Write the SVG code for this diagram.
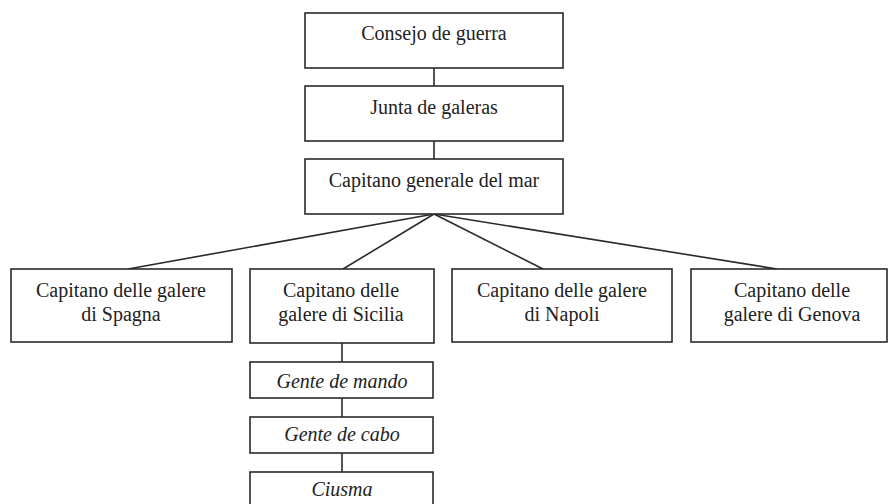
<svg xmlns="http://www.w3.org/2000/svg" width="888" height="504" viewBox="0 0 888 504">
<style>
.box{fill:#fff;stroke:#2a2a2a;stroke-width:1.6}
.lbl{font-family:"Liberation Serif","Times New Roman",serif;font-size:20px;fill:#222;text-anchor:middle}
.it{font-style:italic}
.con{stroke:#2a2a2a;stroke-width:1.6;fill:none}
</style>
<rect width="888" height="504" fill="#fff"/>
<g id="connectors">
<line class="con" x1="434" y1="68" x2="434" y2="86"/>
<line class="con" x1="434" y1="141" x2="434" y2="159"/>
<line class="con" x1="434" y1="214" x2="128" y2="269"/>
<line class="con" x1="434" y1="214" x2="343" y2="269"/>
<line class="con" x1="434" y1="214" x2="543" y2="269"/>
<line class="con" x1="434" y1="214" x2="777" y2="269"/>
<line class="con" x1="342" y1="343" x2="342" y2="362"/>
<line class="con" x1="342" y1="398" x2="342" y2="417"/>
<line class="con" x1="342" y1="453" x2="342" y2="472"/>
</g>
<g id="consejo">
<rect class="box" x="305" y="13" width="258" height="55"/>
<text class="lbl" x="434" y="40">Consejo de guerra</text>
</g>
<g id="junta">
<rect class="box" x="305" y="86" width="258" height="55"/>
<text class="lbl" x="434" y="114">Junta de galeras</text>
</g>
<g id="capitano-generale">
<rect class="box" x="305" y="159" width="258" height="55"/>
<text class="lbl" x="434" y="187">Capitano generale del mar</text>
</g>
<g id="spagna">
<rect class="box" x="11" y="269" width="221" height="73"/>
<text class="lbl" x="121" y="297">Capitano delle galere</text>
<text class="lbl" x="121" y="321">di Spagna</text>
</g>
<g id="sicilia">
<rect class="box" x="250" y="269" width="184" height="74"/>
<text class="lbl" x="341" y="297">Capitano delle</text>
<text class="lbl" x="341" y="321">galere di Sicilia</text>
</g>
<g id="napoli">
<rect class="box" x="452" y="269" width="220" height="73"/>
<text class="lbl" x="562" y="297">Capitano delle galere</text>
<text class="lbl" x="562" y="321">di Napoli</text>
</g>
<g id="genova">
<rect class="box" x="691" y="269" width="196" height="73"/>
<text class="lbl" x="792" y="297">Capitano delle</text>
<text class="lbl" x="792" y="321">galere di Genova</text>
</g>
<g id="gente-mando">
<rect class="box" x="250" y="362" width="183" height="36"/>
<text class="lbl it" x="342" y="388">Gente de mando</text>
</g>
<g id="gente-cabo">
<rect class="box" x="250" y="417" width="183" height="36"/>
<text class="lbl it" x="342" y="441">Gente de cabo</text>
</g>
<g id="ciusma">
<rect class="box" x="250" y="472" width="183" height="40"/>
<text class="lbl it" x="342" y="496">Ciusma</text>
</g>
</svg>
